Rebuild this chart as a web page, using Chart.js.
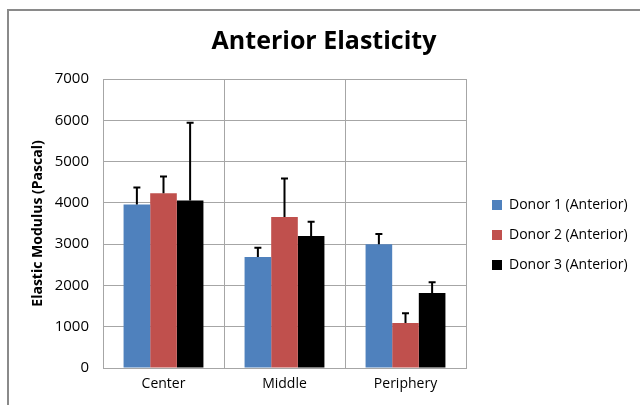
<!DOCTYPE html>
<html>
<head>
<meta charset="utf-8">
<script src="https://cdn.jsdelivr.net/npm/chart.js@4.4.1/dist/chart.umd.min.js"></script>
<style>
  html, body { margin: 0; padding: 0; background: #fff; }
  #wrap { position: relative; width: 640px; height: 405px; }
  #frame { position: absolute; left: 7px; top: 9px; right: 0; bottom: 0; border-left: 2px solid #8a8a8a; border-top: 2px solid #8a8a8a; }
  canvas { position: absolute; left: 0; top: 0; }
</style>
</head>
<body>
<div id="wrap">
  <div id="frame"></div>
  <canvas id="myChart" width="640" height="405"></canvas>
</div>
<script>
const categories = ['Center', 'Middle', 'Periphery']
const donor1 = [3960, 2690, 3000]
const donor2 = [4230, 3655, 1090]
const donor3 = [4060, 3195, 1815]
// upper error bar lengths
const err1 = [415, 225, 245]
const err2 = [410, 935, 235]
const err3 = [1880, 350, 265]
const yTicks = [0, 1000, 2000, 3000, 4000, 5000, 6000, 7000]

const fontName = '"Open Sans", sans-serif'

const errorBars = {
    id: 'errorBars',
    afterDatasetsDraw(chart) {
        const ctx = chart.ctx
        const yScale = chart.scales.y
        ctx.save()
        ctx.strokeStyle = '#000'
        ctx.lineWidth = 2
        chart.data.datasets.forEach((ds, i) => {
            const meta = chart.getDatasetMeta(i)
            meta.data.forEach((bar, j) => {
                const top = yScale.getPixelForValue(ds.data[j] + ds.errors[j])
                ctx.beginPath()
                ctx.moveTo(bar.x, bar.y)
                ctx.lineTo(bar.x, top)
                ctx.moveTo(bar.x - 3.5, top)
                ctx.lineTo(bar.x + 3.5, top)
                ctx.stroke()
            })
        })
        ctx.restore()
    }
}

const ctx = document.getElementById('myChart')

let grafico = new Chart(ctx, {
    type: 'bar',
    data: {
        labels: categories,
        datasets: [
            { label: 'Donor 1 (Anterior)', data: donor1, errors: err1, backgroundColor: '#4f81bd' },
            { label: 'Donor 2 (Anterior)', data: donor2, errors: err2, backgroundColor: '#c0504d' },
            { label: 'Donor 3 (Anterior)', data: donor3, errors: err3, backgroundColor: '#000000' }
        ]
    },
    options: {
        responsive: false,
        animation: false,
        layout: { padding: { left: 20, right: 12, top: 0, bottom: 0 } },
        datasets: { bar: { categoryPercentage: 0.66, barPercentage: 1.0 } },
        plugins: {
            title: {
                display: true,
                text: 'Anterior Elasticity',
                color: '#000',
                font: { family: fontName, size: 25, weight: 'bold' },
                padding: { top: 27, bottom: 22 }
            },
            legend: {
                position: 'right',
                title: { display: true, text: ' ', font: { size: 10 }, padding: { top: 53, bottom: 0 } },
                labels: {
                    color: '#000',
                    font: { family: fontName, size: 14 },
                    boxWidth: 10,
                    boxHeight: 10,
                    padding: 16
                }
            },
            tooltip: { enabled: false }
        },
        scales: {
            x: {
                offset: true,
                grid: { offset: true, color: '#a6a6a6', drawTicks: false },
                border: { color: '#a6a6a6' },
                ticks: { color: '#000', font: { family: fontName, size: 14 }, padding: 8 },
                afterFit: s => { s.height = 37 }
            },
            y: {
                min: 0,
                max: 7000,
                afterBuildTicks: s => { s.ticks = yTicks.map(v => ({ value: v })) },
                grid: { color: '#a6a6a6', drawTicks: false },
                border: { color: '#a6a6a6' },
                ticks: {
                    color: '#000',
                    font: { family: fontName, size: 15 },
                    padding: 14,
                    callback: v => String(v)
                },
                title: {
                    display: true,
                    text: 'Elastic Modulus (Pascal)',
                    color: '#000',
                    font: { family: fontName, size: 14, weight: 'bold' },
                    padding: { top: 10, bottom: 4 }
                },
                afterFit: s => { s.width = 83 }
            },
            // hidden spacer between plot and legend
            spacer: {
                type: 'linear',
                position: 'right',
                display: false,
                afterFit: s => { s.width = 10 }
            }
        }
    },
    plugins: [errorBars]
})
</script>
</body>
</html>
